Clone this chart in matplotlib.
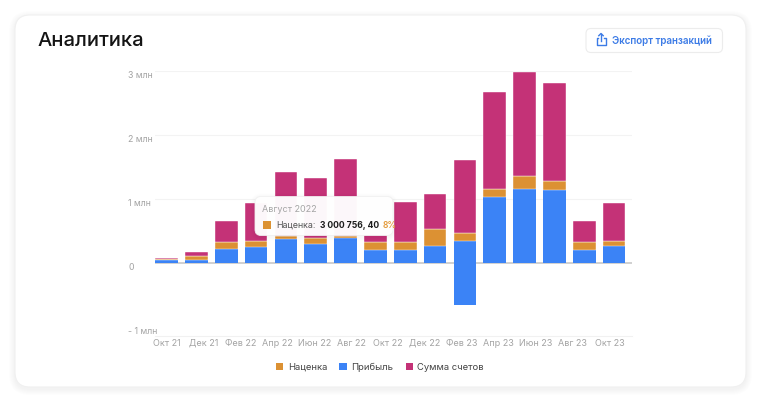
import numpy as np
import matplotlib
matplotlib.use('Agg')
import matplotlib.pyplot as plt
from matplotlib.patches import FancyBboxPatch, Patch, Rectangle

plt.rcParams['font.family'] = ['Inter', 'DejaVu Sans']

# Подписи оси X (через месяц) и значения по месяцам, млн
month_labels = ['Окт 21', 'Дек 21', 'Фев 22', 'Апр 22', 'Июн 22', 'Авг 22', 'Окт 22',
                'Дек 22', 'Фев 23', 'Апр 23', 'Июн 23', 'Авг 23', 'Окт 23']
profit = [0.045, 0.06, 0.22, 0.26, 0.38, 0.30, 0.39, 0.215, 0.215, 0.27, 0.35, 1.03, 1.16, 1.15, 0.215, 0.27]
loss = [0, 0, 0, 0, 0, 0, 0, 0, 0, 0, -0.65, 0, 0, 0, 0, 0]
markup = [0.02, 0.047, 0.12, 0.09, 0.05, 0.09, 0.04, 0.115, 0.115, 0.265, 0.13, 0.13, 0.21, 0.14, 0.125, 0.075]
invoices = [0.025, 0.073, 0.32, 0.59, 0.995, 0.935, 1.2, 0.11, 0.626, 0.545, 1.126, 1.52, 1.62, 1.525, 0.32, 0.595]
y_ticks = [3, 2, 1, 0, -1]
y_labels = ['3 млн', '2 млн', '1 млн', '0', '- 1 млн']

c_markup = '#DC9133'
c_profit = '#3B83F6'
c_inv = '#C43277'

fig = plt.figure(figsize=(7.6, 4), dpi=100)

# фон: карточка с тенью
bg = fig.add_axes([0, 0, 1, 1], zorder=0)
bg.set_xlim(0, 760)
bg.set_ylim(400, 0)
bg.axis('off')
for k in range(1, 7):
    bg.add_patch(FancyBboxPatch((15 - k, 15 - k + 2), 731 + 2 * k, 372 + 2 * k,
                                boxstyle='round,pad=0,rounding_size=%d' % (15 + k),
                                facecolor='black', edgecolor='none', alpha=0.006))
bg.add_patch(FancyBboxPatch((15, 15), 731, 372, boxstyle='round,pad=0,rounding_size=15',
                            facecolor='white', edgecolor='#f0f0f0', lw=0.8))
bg.text(38, 41, 'Аналитика', fontsize=14.5, fontweight='medium', color='#141414', va='center', ha='left')

# кнопка экспорта
bg.add_patch(FancyBboxPatch((586, 28.5), 136.5, 24, boxstyle='round,pad=0,rounding_size=5',
                            facecolor='white', edgecolor='#ececec', lw=0.8))
btn_c = '#3C7BE6'
bg.plot([598, 596.5, 596.5, 605.5, 605.5, 604], [37.5, 37.5, 44.5, 44.5, 37.5, 37.5], color=btn_c, lw=1.0,
        solid_joinstyle='round')
bg.plot([601, 601], [41, 33.5], color=btn_c, lw=1.0)
bg.plot([598.8, 601, 603.2], [35.7, 33.5, 35.7], color=btn_c, lw=1.0)
bg.text(612.5, 41, 'Экспорт транзакций', fontsize=7, fontweight='semibold', color=btn_c, va='center', ha='left')

# график
ax = fig.add_axes([155 / 760, 64 / 400, 477 / 760, 265 / 400], zorder=1)
ax.patch.set_alpha(0)
x = np.arange(len(profit))
w = 0.76
ax.bar(x, profit, w, color=c_profit, zorder=2)
ax.bar(x, loss, w, color=c_profit, zorder=2)
ax.bar(x, markup, w, bottom=profit, color=c_markup, edgecolor='white', lw=0.3, zorder=2)
ax.bar(x, invoices, w, bottom=np.array(profit) + np.array(markup), color=c_inv,
       edgecolor='white', lw=0.3, zorder=2, clip_on=False)

ax.set_xlim(-0.39, 15.6)
ax.set_ylim(-1.133, 3.0)
for g in [1, 2, 3]:
    ax.axhline(g, color='#f3f3f3', lw=0.8, zorder=0)
ax.axhline(0, color='#cdcdcd', lw=1.3, zorder=1)

for s in ['top', 'right', 'left']:
    ax.spines[s].set_visible(False)
ax.spines['bottom'].set_color('#f1f1f1')
ax.spines['bottom'].set_linewidth(0.8)

ax.set_yticks(y_ticks)
ax.set_yticklabels(y_labels)
ax.tick_params(axis='y', length=0, pad=19.4, labelsize=6.3, labelcolor='#a3a3a3')
for lbl in ax.get_yticklabels():
    lbl.set_horizontalalignment('left')
    lbl.set_verticalalignment('top')

ax.set_xticks(np.linspace(0, 14.85, len(month_labels)))
ax.set_xticklabels(month_labels)
ax.tick_params(axis='x', length=0, pad=2, labelsize=6.5, labelcolor='#a3a3a3')

# легенда
handles = [Patch(facecolor=c_markup), Patch(facecolor=c_profit), Patch(facecolor=c_inv)]
fig.legend(handles, ['Наценка', 'Прибыль', 'Сумма счетов'], loc='center', bbox_to_anchor=(0.5, 0.0825),
           ncol=3, frameon=False, fontsize=6.8, labelcolor='#444444', handlelength=0.75, handleheight=0.75,
           handletextpad=0.5, columnspacing=1.3)

# подсказка
fg = fig.add_axes([0, 0, 1, 1], zorder=3)
fg.set_xlim(0, 760)
fg.set_ylim(400, 0)
fg.axis('off')
for k in range(1, 5):
    fg.add_patch(FancyBboxPatch((255 - k, 196.5 - k + 1), 138 + 2 * k, 39 + 2 * k,
                                boxstyle='round,pad=0,rounding_size=%d' % (6 + k),
                                facecolor='black', edgecolor='none', alpha=0.008))
fg.add_patch(FancyBboxPatch((255, 196.5), 138, 39, boxstyle='round,pad=0,rounding_size=6',
                            facecolor='white', edgecolor='#f0f0f0', lw=0.6, alpha=0.97))
fg.text(262, 209, 'Август 2022', fontsize=6.5, color='#a5a5a5', va='center', ha='left')
fg.add_patch(Rectangle((263, 221), 7.5, 7.5, facecolor=c_markup, edgecolor='none'))
t1 = fg.text(276, 225, 'Наценка:', fontsize=6.4, color='#555555', va='center', ha='left')
t2 = fg.annotate('3 000 756, 40', xy=(1, 0.5), xycoords=t1, xytext=(3, 0), textcoords='offset points',
                 fontsize=6.2, fontweight='bold', color='#1c1c1c', va='center', ha='left')
fg.annotate('8%', xy=(1, 0.5), xycoords=t2, xytext=(3, 0), textcoords='offset points',
            fontsize=6.2, fontweight='semibold', color='#E39A3B', va='center', ha='left')

plt.savefig('out.png', dpi=100)
